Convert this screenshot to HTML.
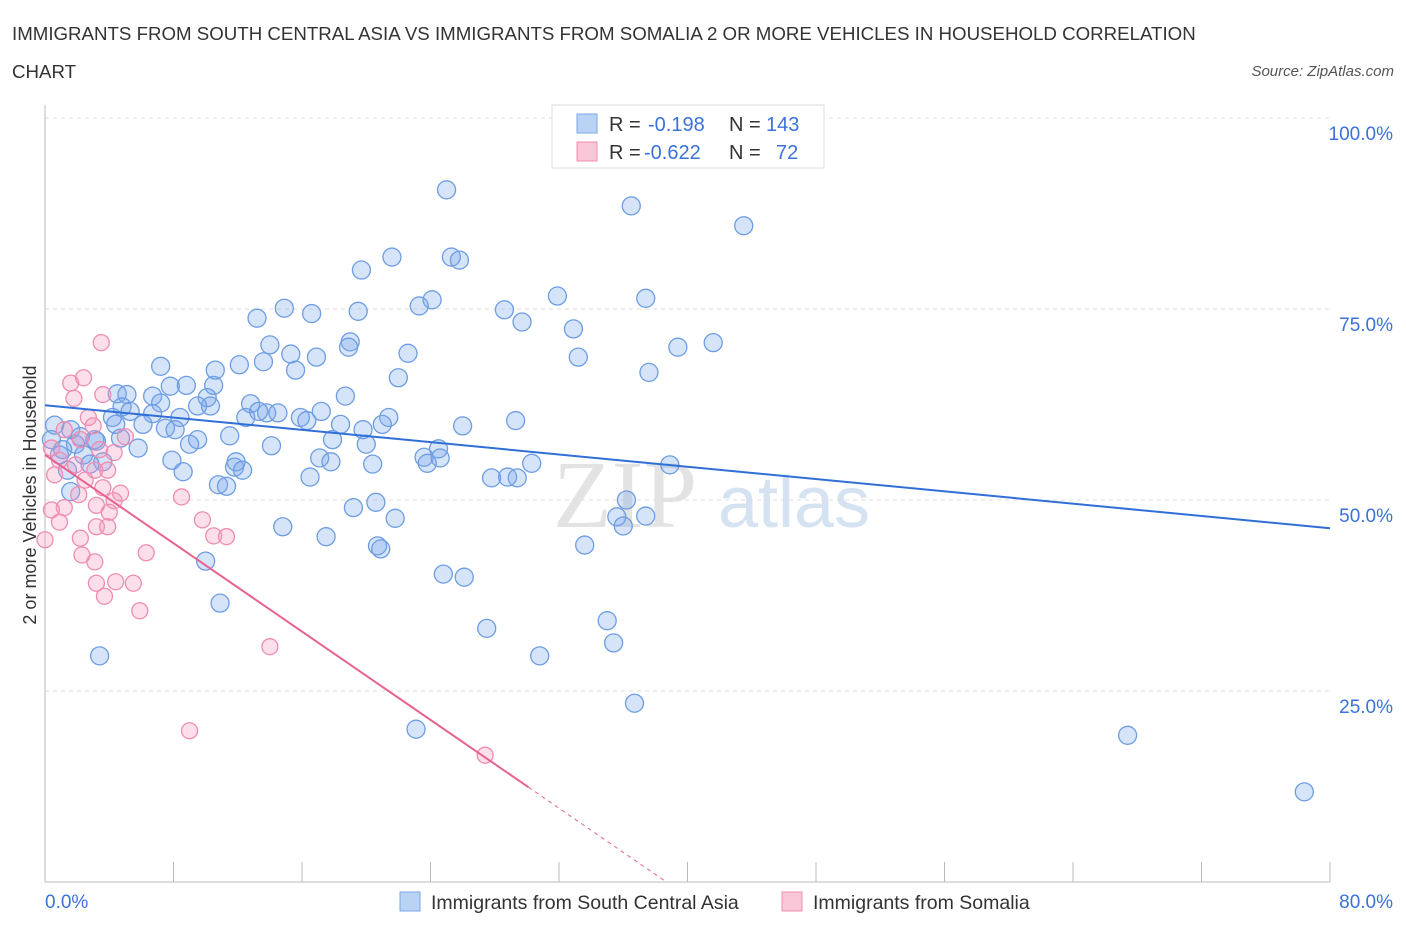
<!DOCTYPE html>
<html><head><meta charset="utf-8">
<style>
body{margin:0;background:#fff;font-family:"Liberation Sans",sans-serif;}
svg{display:block}
</style></head>
<body>
<svg width="1406" height="930" viewBox="0 0 1406 930">
<text x="12" y="40" font-size="18.7" fill="#333">IMMIGRANTS FROM SOUTH CENTRAL ASIA VS IMMIGRANTS FROM SOMALIA 2 OR MORE VEHICLES IN HOUSEHOLD CORRELATION</text>
<text x="12" y="78" font-size="18.7" fill="#333">CHART</text>
<text x="1394" y="76" font-size="15" fill="#555" font-style="italic" text-anchor="end">Source: ZipAtlas.com</text>
<g id="watermark">
<text x="553" y="527" font-size="96" font-family="Liberation Serif,serif" fill="#d8d8d8" opacity="0.7">ZIP</text>
<text x="718" y="527" font-size="72" fill="#b8cfe8" opacity="0.6">atlas</text>
</g>
<g id="grid"></g>
<g id="axes"></g>
<text x="36" y="495" font-size="18" fill="#333" transform="rotate(-90 36 495)" text-anchor="middle">2 or more Vehicles in Household</text>
<g id="pts"></g>
<g id="trends"></g>
<g>
<rect x="552" y="105" width="272" height="63" fill="#fff" stroke="#ddd"/>
<rect x="577" y="114" width="20" height="19" fill="#b9d3f5" stroke="#7aa7e6"/>
<rect x="577" y="142" width="20" height="19" fill="#f9c6d8" stroke="#ef8fb3"/>
<g font-size="20" fill="#333">
<text x="609" y="131">R =</text><text x="648" y="131" fill="#3b72d9">-0.198</text><text x="729" y="131">N =</text><text x="766" y="131" fill="#3b72d9">143</text></g>
<g font-size="20" fill="#333">
<text x="609" y="159">R =</text><text x="644" y="159" fill="#3b72d9">-0.622</text><text x="729" y="159">N =</text><text x="776" y="159" fill="#3b72d9">72</text></g>
</g>
<g>
<rect x="400" y="892" width="20" height="19" fill="#b9d3f5" stroke="#7aa7e6"/>
<text x="431" y="909" font-size="19.5" fill="#333">Immigrants from South Central Asia</text>
<rect x="782" y="892" width="20" height="19" fill="#f9c6d8" stroke="#ef8fb3"/>
<text x="813" y="909" font-size="19.5" fill="#333">Immigrants from Somalia</text>
</g>
</svg>
<script>
const blueX=[25.0,36.5,43.5,21.6,25.3,25.8,19.7,31.9,37.4,24.1,23.3,14.9,16.6,19.5,28.6,13.2,29.7,32.9,41.6,39.4,14.0,19.0,18.9,22.6,15.3,16.9,13.6,33.2,12.1,7.2,10.6,15.6,37.6,22.0,8.8,7.8,10.5,4.5,5.1,6.7,18.7,7.2,10.1,10.3,9.5,12.8,4.8,17.2,13.8,14.5,13.3,5.3,6.7,8.4,12.5,15.9,21.4,4.2,16.3,29.3,21.0,6.1,18.4,26.0,19.8,7.5,8.1,4.4,4.7,11.5,9.5,9.0,17.9,20.0,3.2,5.8,14.1,24.5,23.6,24.6,17.1,7.9,17.8,3.6,20.4,11.9,11.8,23.8,30.3,38.9,8.6,12.3,16.5,27.8,28.8,29.4,10.8,11.3,36.2,20.6,19.2,35.6,37.4,21.8,36.0,14.8,17.5,33.6,20.7,20.9,10.0,24.8,26.1,10.9,35.0,27.5,35.4,30.8,3.4,36.7,23.1,67.4,78.4,0.6,0.4,0.9,1.6,1.9,2.4,1.4,2.8,1.6,2.2,1.1,3.1];
const blueY=[90.6,88.5,85.9,81.8,81.8,81.4,80.1,76.7,76.4,76.2,75.4,75.1,74.4,74.7,74.9,73.8,73.3,72.4,70.6,70.0,70.3,70.7,70.0,69.2,69.1,68.7,68.1,68.7,67.7,67.5,67.0,67.0,66.7,66.0,65.0,64.9,65.0,63.9,63.8,63.6,63.6,62.7,63.4,62.3,62.3,62.6,62.2,61.6,61.4,61.4,61.6,61.6,61.3,60.8,60.8,60.8,60.8,60.8,60.4,60.4,59.9,59.9,59.9,59.7,59.2,59.4,59.2,59.9,58.1,58.4,57.9,57.3,57.9,57.3,57.7,56.8,57.1,56.7,55.6,55.5,55.5,55.2,55.0,55.0,54.7,55.0,54.3,54.8,54.8,54.6,53.7,53.9,53.0,52.9,53.0,52.9,52.0,51.8,50.0,49.7,49.0,47.8,47.9,47.6,46.6,46.5,45.2,44.1,44.0,43.6,42.0,40.3,39.9,36.5,34.2,33.2,31.3,29.6,29.6,23.4,20.0,19.2,11.8,59.8,57.9,55.9,59.2,57.3,55.9,53.9,54.7,51.1,58.3,56.6,57.9];
const pinkX=[3.5,1.6,2.4,3.6,1.8,2.7,3.0,1.2,0.4,2.2,3.4,0.9,1.9,3.1,3.9,0.6,2.5,3.6,4.7,2.1,8.5,4.3,3.2,1.2,4.0,0.4,9.8,0.9,3.2,3.9,11.3,10.5,2.2,0.0,6.3,2.3,3.1,3.2,4.4,5.5,3.7,5.9,14.0,9.0,27.4,5.0,4.3];
const pinkY=[70.6,65.3,66.0,63.8,63.3,60.8,59.7,59.2,56.8,57.9,56.6,55.2,54.6,53.9,53.9,53.3,52.6,51.6,50.9,50.7,50.4,49.9,49.3,49.0,48.4,48.7,47.4,47.1,46.5,46.5,45.2,45.3,45.0,44.8,43.1,42.8,41.9,39.1,39.3,39.1,37.4,35.5,30.8,19.8,16.6,58.3,56.2];
const yTicks=[100,75,50,25];
const yTickLabels=["100.0%","75.0%","50.0%","25.0%"];
const xTicks=[0,8,16,24,32,40,48,56,64,72,80];
const blueTrend=[62.4,46.3];
const pinkTrend=[55.9,-1.445];
const X=v=>45+v/80*1285, Y=v=>882-v/100*764;
const NS="http://www.w3.org/2000/svg";
function mk(tag,attrs,parent){const e=document.createElementNS(NS,tag);for(const k in attrs)e.setAttribute(k,attrs[k]);parent.appendChild(e);return e;}
const grid=document.getElementById('grid'),axes=document.getElementById('axes'),pts=document.getElementById('pts'),tr=document.getElementById('trends');
yTicks.forEach((t,i)=>{
 const l=mk('line',{x1:45,x2:1330,y1:Y(t),y2:Y(t),stroke:'#ddd','stroke-dasharray':'4,4'},grid);
 
 
 const tx=mk('text',{x:1393,y:Y(t)+22,'font-size':19,fill:'#3b72d9','text-anchor':'end'},grid);
 tx.textContent=yTickLabels[i];
 
 
});
let a=mk('line',{x1:45,x2:45,y1:105,y2:882,stroke:'#bbb'},axes);


a=mk('line',{x1:45,x2:1330,y1:882,y2:882,stroke:'#bbb'},axes);


xTicks.forEach(t=>{
 const l=mk('line',{x1:X(t),x2:X(t),y1:862,y2:882,stroke:'#bbb'},axes);
 
 
});
let t1=mk('text',{x:45,y:908,'font-size':19,fill:'#3b72d9'},axes);t1.textContent='0.0%';


let t2=mk('text',{x:1393,y:908,'font-size':19,fill:'#3b72d9','text-anchor':'end'},axes);t2.textContent='80.0%';


blueX.forEach((x,i)=>{
 const c=mk('circle',{cx:X(x),cy:Y(blueY[i]),r:9,fill:'rgba(120,165,235,0.3)',stroke:'#6d9de3','stroke-width':1.3},pts);
 
 
});
pinkX.forEach((x,i)=>{
 const c=mk('circle',{cx:X(x),cy:Y(pinkY[i]),r:8,fill:'rgba(245,150,185,0.3)',stroke:'#ee8db1','stroke-width':1.3},pts);
 
 
});
let bl=mk('line',{x1:X(0),y1:Y(blueTrend[0]),x2:X(80),y2:Y(blueTrend[1]),stroke:'#2f6fd6','stroke-width':2},tr);


const pe=30.1, pz=-pinkTrend[0]/pinkTrend[1];
let pl=mk('line',{x1:X(0),y1:Y(pinkTrend[0]),x2:X(pe),y2:Y(pinkTrend[0]+pinkTrend[1]*pe),stroke:'#e8628f','stroke-width':2},tr);


let pd=mk('line',{x1:X(pe),y1:Y(pinkTrend[0]+pinkTrend[1]*pe),x2:X(pz),y2:Y(0),stroke:'#e8628f','stroke-width':1,'stroke-dasharray':'4,4'},tr);


</script>
</body></html>
